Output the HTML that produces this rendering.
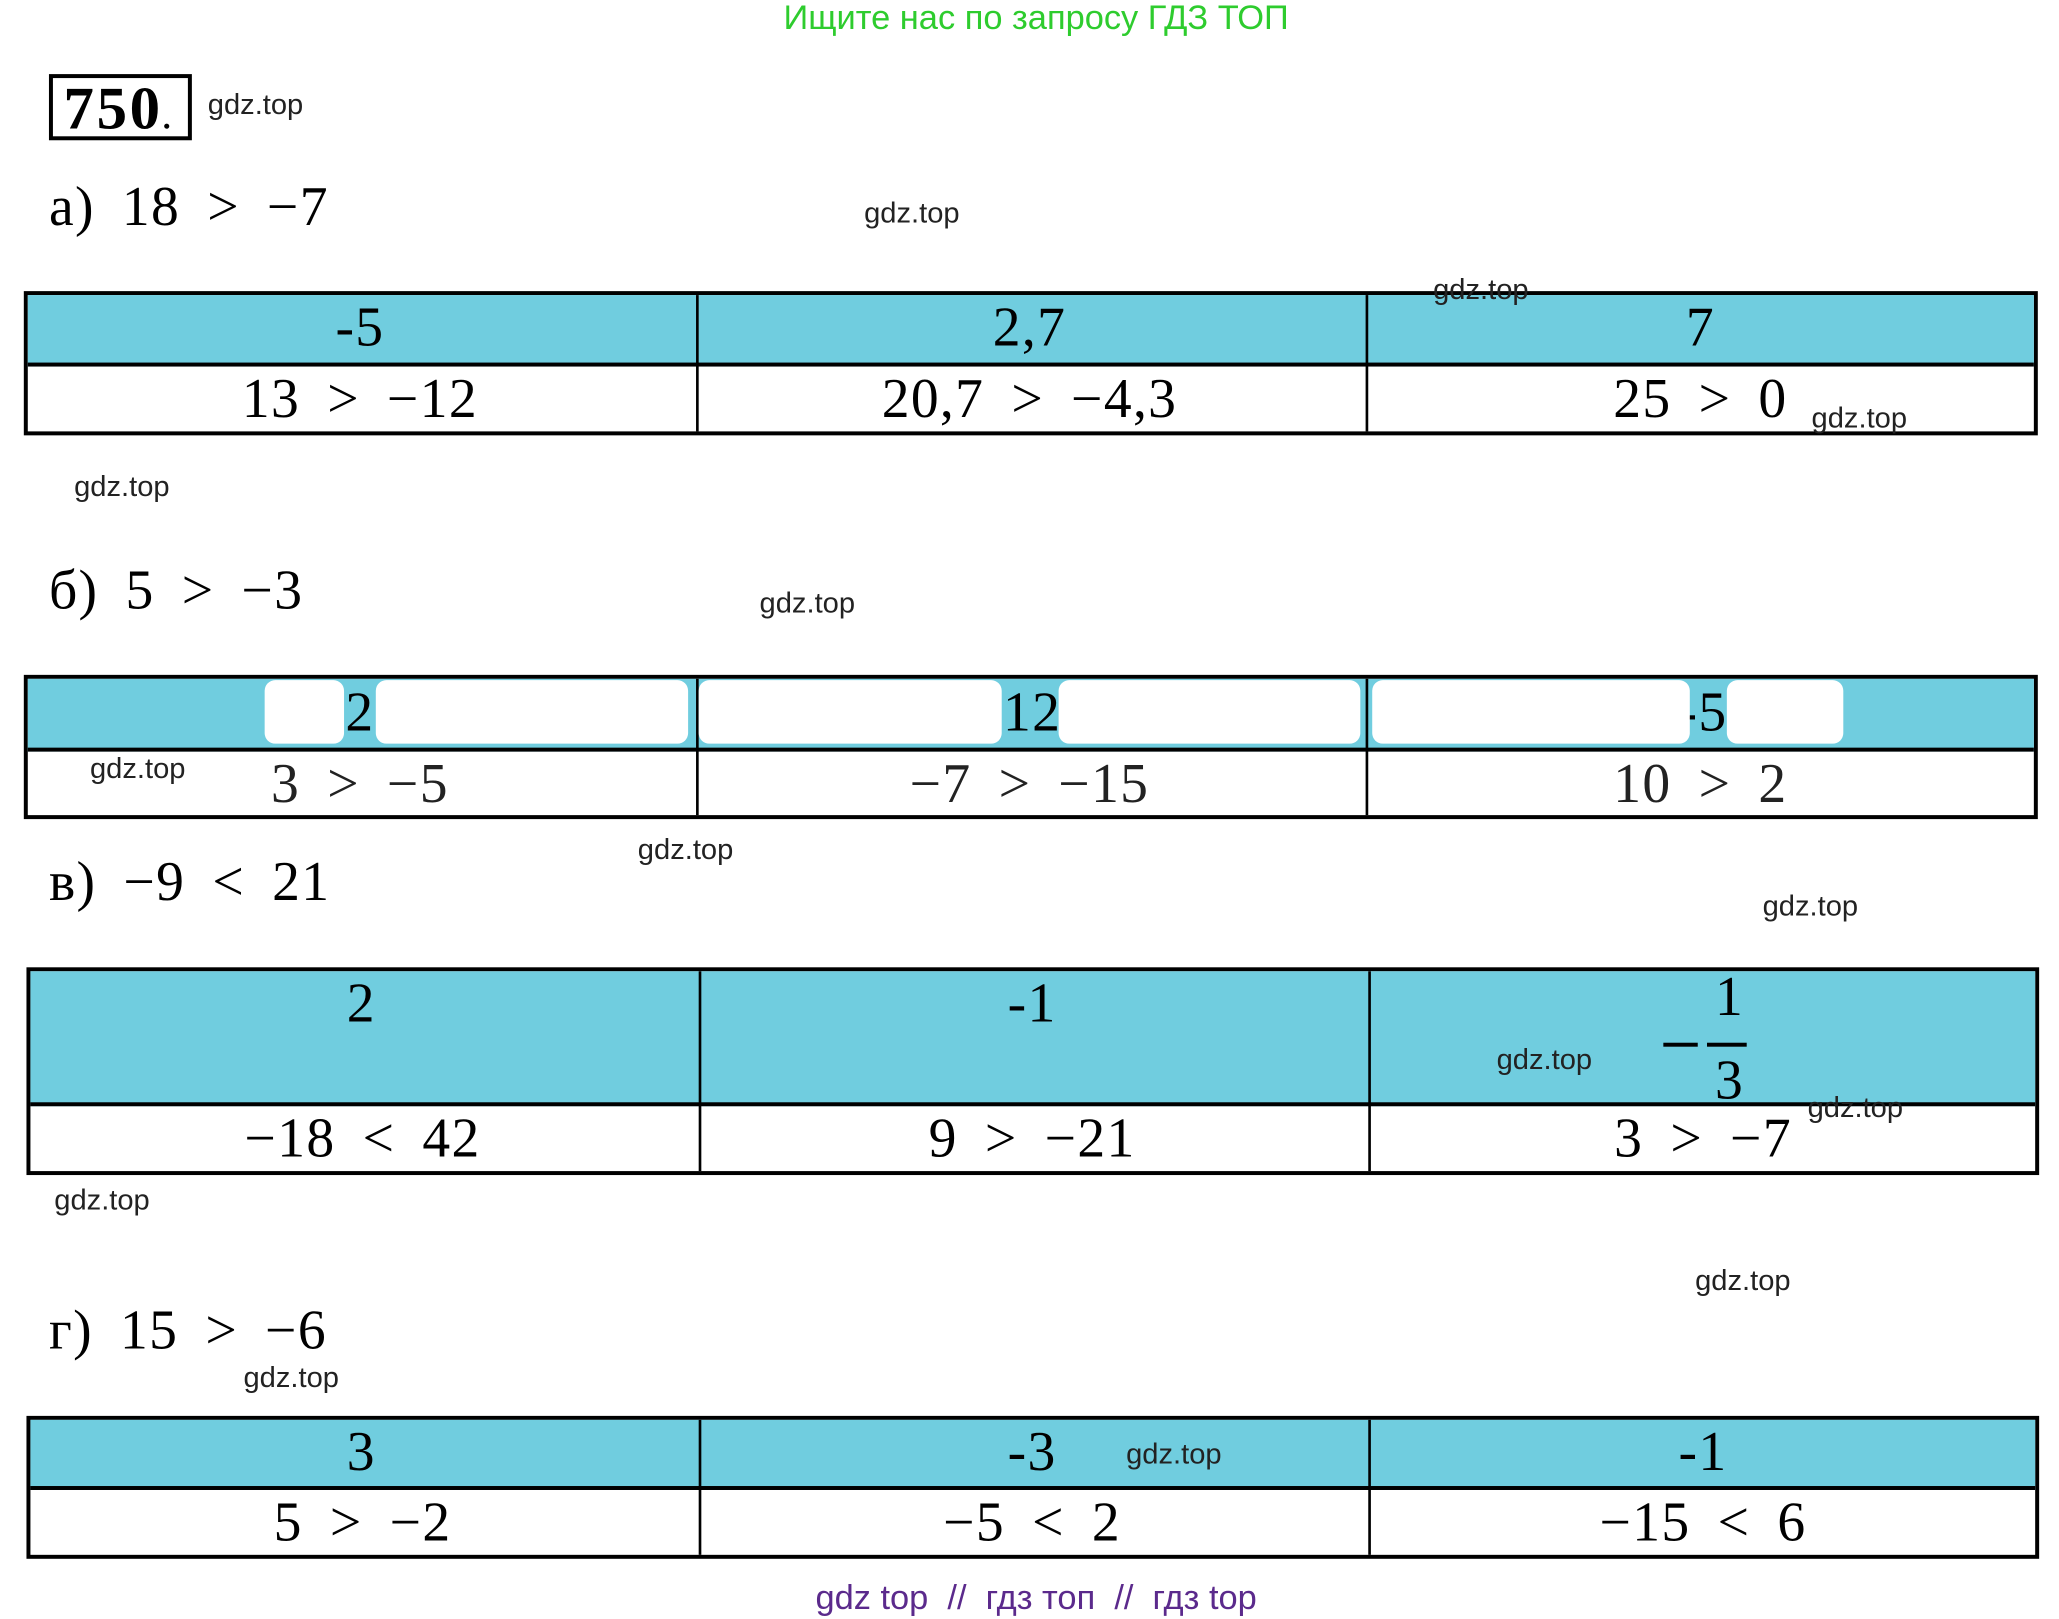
<!DOCTYPE html>
<html><head><meta charset="utf-8"><style>
html,body{margin:0;padding:0;background:#fff;}
body{width:2059px;height:1612px;overflow:hidden;position:relative;}
#w{position:absolute;left:0;top:0;width:1556px;height:1218px;transform:scale(1.32326);transform-origin:0 0;}
.t{position:absolute;white-space:nowrap;line-height:1.2;}
.g{font-family:"Liberation Sans",sans-serif;font-size:22px;color:#222;}
.m{font-family:"Liberation Serif","DejaVu Serif",serif;font-size:42px;color:#000;word-spacing:9px;letter-spacing:1px;}
.c{transform:translateX(-50%);}
.tb{position:absolute;border:3px solid #000;box-sizing:border-box;}
.h{position:absolute;left:0;right:0;top:0;background:#70cddf;border-bottom:3px solid #000;}
.v{position:absolute;top:0;bottom:0;width:1.5px;background:#000;}
.wb{position:absolute;background:#fff;border-radius:8px;}
</style></head><body><div id="w">

<div class="t c" style="left:783px;top:-2px;font-family:'Liberation Sans',sans-serif;font-size:26px;color:#2ecc2e;">Ищите нас по запросу ГДЗ ТОП</div>

<div style="position:absolute;left:37px;top:56px;width:108px;height:50px;border:3px solid #000;box-sizing:border-box;"></div>
<div class="t" style="left:48px;top:56px;font-family:'Liberation Serif',serif;font-weight:bold;font-size:46px;letter-spacing:2px;line-height:52px;">750<span style="font-size:24px">.</span></div>
<div class="t g" style="left:157px;top:66px;">gdz.top</div>

<div class="t m" style="left:37px;top:132px;">а) 18 &gt; −7</div>
<div class="t g" style="left:653px;top:148px;">gdz.top</div>

<!-- table a -->
<div class="tb" style="left:18px;top:220px;width:1522px;height:109px;">
 <div class="h" style="height:51px;"></div>
 <div class="v" style="left:505px;"></div><div class="v" style="left:1011px;"></div>
</div>
<div class="t m c" style="left:272px;top:223px;">-5</div>
<div class="t m c" style="left:778px;top:223px;">2,7</div>
<div class="t m c" style="left:1285px;top:223px;">7</div>
<div class="t m c" style="left:272px;top:277px;">13 &gt; −12</div>
<div class="t m c" style="left:778px;top:277px;">20,7 &gt; −4,3</div>
<div class="t m c" style="left:1285px;top:277px;">25 &gt; 0</div>
<div class="t g" style="left:1083px;top:206px;">gdz.top</div>
<div class="t g" style="left:1369px;top:303px;">gdz.top</div>
<div class="t g" style="left:56px;top:355px;">gdz.top</div>

<div class="t m" style="left:37px;top:422px;">б) 5 &gt; −3</div>
<div class="t g" style="left:574px;top:443px;">gdz.top</div>

<!-- table b -->
<div class="tb" style="left:18px;top:510px;width:1522px;height:109px;">
 <div class="h" style="height:52px;"></div>
 <div class="v" style="left:505px;"></div><div class="v" style="left:1011px;"></div>
</div>
<div class="t m c" style="left:272px;top:514px;">2</div>
<div class="t m c" style="left:780px;top:514px;">12</div>
<div class="t m c" style="left:1287px;top:514px;">-5</div>
<div class="wb" style="left:200px;top:514px;width:60px;height:48px;"></div>
<div class="wb" style="left:284px;top:514px;width:236px;height:48px;"></div>
<div class="wb" style="left:528px;top:514px;width:229px;height:48px;"></div>
<div class="wb" style="left:800px;top:514px;width:228px;height:48px;"></div>
<div class="wb" style="left:1037px;top:514px;width:240px;height:48px;"></div>
<div class="wb" style="left:1305px;top:514px;width:88px;height:48px;"></div>
<div class="t m c" style="left:272px;top:568px;color:#222;">3 &gt; −5</div>
<div class="t m c" style="left:778px;top:568px;color:#222;">−7 &gt; −15</div>
<div class="t m c" style="left:1285px;top:568px;color:#222;">10 &gt; 2</div>
<div class="t g" style="left:68px;top:568px;">gdz.top</div>
<div class="t g" style="left:482px;top:629px;">gdz.top</div>

<div class="t m" style="left:37px;top:642px;">в) −9 &lt; 21</div>
<div class="t g" style="left:1332px;top:672px;">gdz.top</div>

<!-- table c -->
<div class="tb" style="left:20px;top:731px;width:1521px;height:157px;">
 <div class="h" style="height:99px;"></div>
 <div class="v" style="left:505px;"></div><div class="v" style="left:1011px;"></div>
</div>
<div class="t m c" style="left:273px;top:734px;">2</div>
<div class="t m c" style="left:780px;top:734px;">-1</div>
<div style="position:absolute;left:1257px;top:788px;width:26px;height:3px;background:#000;"></div>
<div style="position:absolute;left:1290px;top:788px;width:30px;height:3px;background:#000;"></div>
<div class="t m c" style="left:1307px;top:729px;">1</div>
<div class="t m c" style="left:1307px;top:792px;">3</div>
<div class="t m c" style="left:274px;top:836px;">−18 &lt; 42</div>
<div class="t m c" style="left:780px;top:836px;">9 &gt; −21</div>
<div class="t m c" style="left:1287px;top:836px;">3 &gt; −7</div>
<div class="t g" style="left:1131px;top:788px;">gdz.top</div>
<div class="t g" style="left:1366px;top:824px;">gdz.top</div>
<div class="t g" style="left:41px;top:894px;">gdz.top</div>

<div class="t g" style="left:1281px;top:955px;">gdz.top</div>
<div class="t m" style="left:37px;top:981px;">г) 15 &gt; −6</div>
<div class="t g" style="left:184px;top:1028px;">gdz.top</div>

<!-- table d -->
<div class="tb" style="left:20px;top:1070px;width:1521px;height:108px;">
 <div class="h" style="height:50px;"></div>
 <div class="v" style="left:505px;"></div><div class="v" style="left:1011px;"></div>
</div>
<div class="t m c" style="left:273px;top:1073px;">3</div>
<div class="t m c" style="left:780px;top:1073px;">-3</div>
<div class="t m c" style="left:1287px;top:1073px;">-1</div>
<div class="t m c" style="left:274px;top:1126px;">5 &gt; −2</div>
<div class="t m c" style="left:780px;top:1126px;">−5 &lt; 2</div>
<div class="t m c" style="left:1287px;top:1126px;">−15 &lt; 6</div>
<div class="t g" style="left:851px;top:1086px;">gdz.top</div>

<div class="t c" style="left:783px;top:1192px;font-family:'Liberation Sans',sans-serif;font-size:26px;color:#5b2a8c;">gdz top &nbsp;// &nbsp;гдз топ &nbsp;// &nbsp;гдз top</div>

</div></body></html>
